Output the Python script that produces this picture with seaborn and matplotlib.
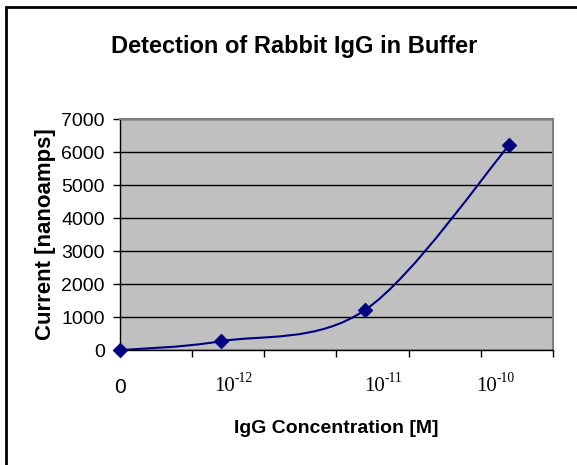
import matplotlib
matplotlib.use('Agg')
import matplotlib.pyplot as plt
import seaborn as sns
import pandas as pd
from matplotlib.path import Path
from matplotlib.patches import PathPatch, Rectangle

# Data (x = position on the category-like axis)
x_pos = [0, 1.4, 3.4, 5.4]
current = [0, 270, 1220, 6220]
tick_pos = [1.59, 3.67, 5.22]
tick_exp = ['-12', '-11', '-10']

df = pd.DataFrame({'x': x_pos, 'current': current})

sns.set_style('white')
plt.rcParams['font.family'] = ['Liberation Sans', 'DejaVu Sans']
for k in ['text.color', 'axes.labelcolor', 'xtick.color', 'ytick.color']:
    plt.rcParams[k] = 'black'

fig = plt.figure(figsize=(5.77, 4.65), dpi=100)
ax = fig.add_axes([0.208, 0.247, 0.750, 0.497])
ax.set_facecolor('#C0C0C0')

# Excel-style smoothed line (Catmull-Rom as cubic Bezier)
pts = list(zip(x_pos, current))
verts = [pts[0]]
codes = [Path.MOVETO]
for i in range(len(pts) - 1):
    p0 = pts[i - 1] if i > 0 else pts[i]
    p1 = pts[i]
    p2 = pts[i + 1]
    p3 = pts[i + 2] if i + 2 < len(pts) else pts[i + 1]
    c1 = (p1[0] + (p2[0] - p0[0]) / 6, p1[1] + (p2[1] - p0[1]) / 6)
    c2 = (p2[0] - (p3[0] - p1[0]) / 6, p2[1] - (p3[1] - p1[1]) / 6)
    verts += [c1, c2, p2]
    codes += [Path.CURVE4] * 3
ax.add_patch(PathPatch(Path(verts, codes), facecolor='none', edgecolor='#000080', lw=1.5, zorder=3))

sns.scatterplot(data=df, x='x', y='current', ax=ax, marker='D', s=55, color='#000080',
                edgecolor='#000080', zorder=4, clip_on=False)

ax.set_xlim(0, 6)
ax.set_ylim(0, 7000)
ax.set_yticks(range(0, 7001, 1000))
ax.set_xticks(range(0, 7))
ax.set_xticklabels([])
ax.yaxis.grid(True, color='black', lw=1)
ax.set_axisbelow(True)
ax.tick_params(axis='y', labelsize=14, length=5, width=1, direction='out', left=True, pad=6)
ax.tick_params(axis='x', length=5, width=1, direction='out', bottom=True)
for s in ['left', 'bottom']:
    ax.spines[s].set_color('black')
    ax.spines[s].set_linewidth(1)
for s in ['top', 'right']:
    ax.spines[s].set_color('#808080')
    ax.spines[s].set_linewidth(1.5)

xt = ax.get_xaxis_transform()
ax.text(0, -0.186, '0', transform=xt, ha='center', va='baseline', fontsize=15)
for p, e in zip(tick_pos, tick_exp):
    ax.text(p, -0.1775, '10', transform=xt, ha='right', va='baseline', fontsize=15,
            family='Liberation Serif')
    ax.text(p, -0.1385, e, transform=xt, ha='left', va='baseline', fontsize=9.8,
            family='Liberation Serif')

ax.set_xlabel('IgG Concentration [M]', fontsize=14, fontweight='bold', labelpad=42)
ax.set_ylabel('Current [nanoamps]', fontsize=16, fontweight='bold', labelpad=4)
fig.text(0.51, 0.9, 'Detection of Rabbit IgG in Buffer', ha='center', va='center',
         fontsize=17, fontweight='bold')

fig.patches.append(Rectangle((0.0105, -0.05), 1.2, 0.05 + 0.984, transform=fig.transFigure,
                             fill=False, edgecolor='black', lw=2))

fig.savefig('out.png', dpi=100)
